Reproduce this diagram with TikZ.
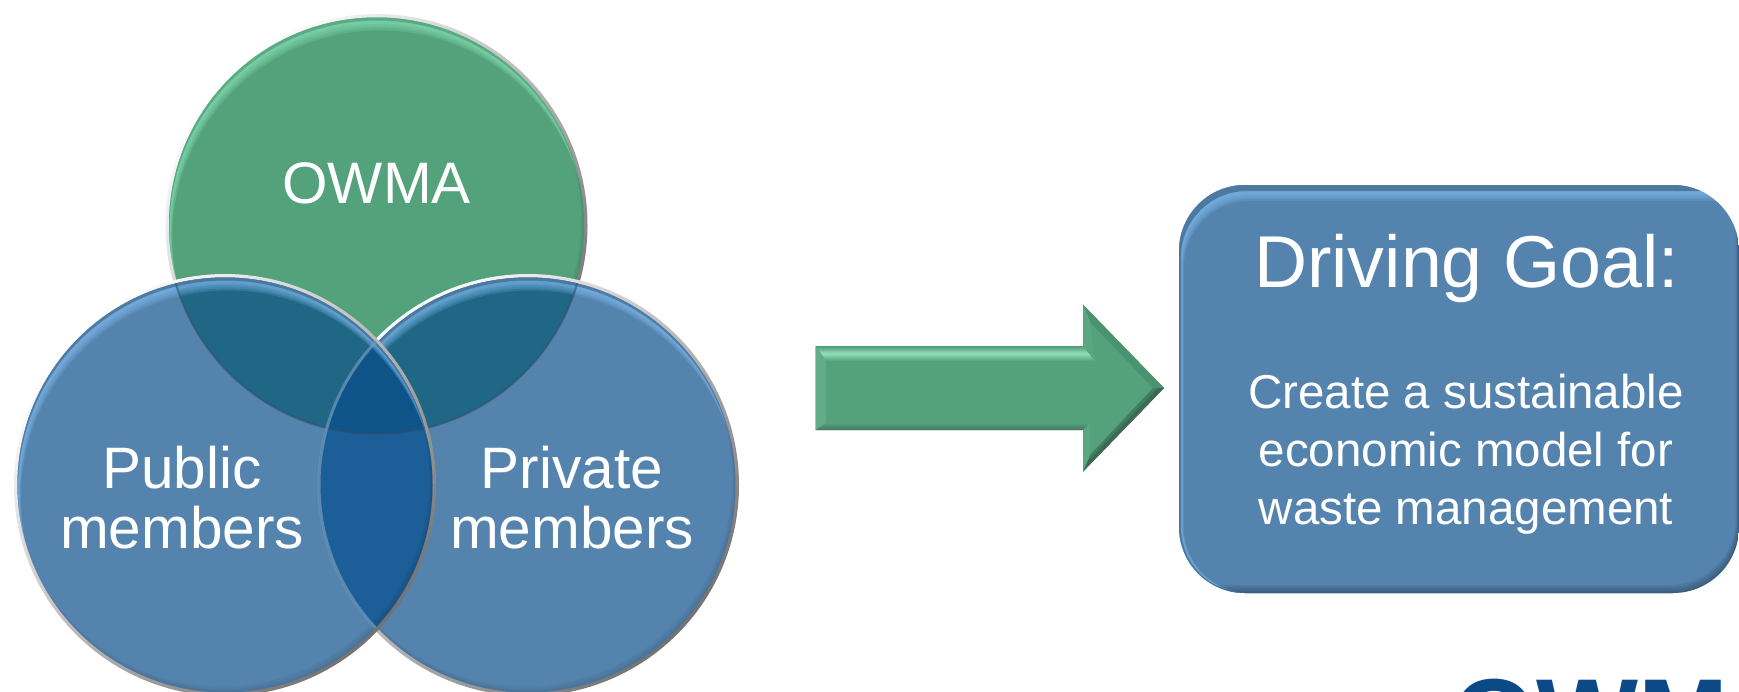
\documentclass[tikz,border=0pt]{standalone}
\usepackage{fontspec}
\setmainfont{Liberation Sans}
\definecolor{gbase}{HTML}{53A27C}
\definecolor{ghi}{HTML}{86DDB2}
\definecolor{bbase}{HTML}{5483AE}
\definecolor{bhi}{HTML}{7DB8EC}
\definecolor{tealov}{HTML}{1F6784}
\definecolor{blueov}{HTML}{1C5E97}
\definecolor{triov}{HTML}{0E5489}
\definecolor{logoblue}{HTML}{0B4A86}
\tikzset{
  x=1pt,y=-1pt,
  label/.style={text=white,inner sep=0pt,align=center,anchor=base},
  big/.style={font=\fontsize{58.5}{60}\selectfont},
  small/.style={font=\fontsize{47.5}{58}\selectfont},
}
% rim and base disc
\newcommand{\discbase}[3]{%
  \shade[top color=white,bottom color=black!55,shading angle=45] (#1,#2) circle[radius=211];
  \fill[#3] (#1,#2) circle[radius=207.5];
}
% bevel inside a disc: highlight at the upper left, soft dark at the lower right
\newcommand{\discbevel}[4]{%
  \begin{scope}
    \clip (#1,#2) circle[radius=207.5];
    \foreach \d in {13,11,9,7,6}{
      \fill[#3,opacity=.22,even odd rule] (-300,-300) rectangle (2100,1000) (#1+\d*.25,#2+\d) circle[radius=207.5];
    }
    \fill[#4,opacity=.8,even odd rule] (-300,-300) rectangle (2100,1000) (#1+.5,#2+3) circle[radius=207.5];
    \foreach \d in {6,4,2}{
      \fill[black,opacity=.035,even odd rule] (-300,-300) rectangle (2100,1000) (#1-\d*.5,#2-\d) circle[radius=207.5];
    }
  \end{scope}
}
\begin{document}
\begin{tikzpicture}
\useasboundingbox (0,0) rectangle (1739,691);
\clip (0,0) rectangle (1739,691);
\fill[white] (0,0) rectangle (1739,691);

% OWMA disc
\discbase{376.5}{225}{gbase}
\discbevel{376.5}{225}{ghi}{gbase}

% Private disc
\discbase{528}{485}{bbase}
\begin{scope}
  \clip (528,485) circle[radius=207.5];
  \fill[tealov] (376.5,225) circle[radius=209];
\end{scope}
\discbevel{528}{485}{bhi}{bbase!85!black}
\begin{scope}
  \clip (528,485) circle[radius=207.5];
  \draw[black!40!bbase,opacity=.55,line width=2pt] (376.5,225) circle[radius=209];
\end{scope}

% Public disc
\discbase{225}{485}{bbase}
\begin{scope}
  \clip (225,485) circle[radius=207.5];
  \fill[tealov] (376.5,225) circle[radius=209];
  \fill[blueov] (528,485) circle[radius=210];
  \begin{scope}
    \clip (528,485) circle[radius=210];
    \fill[triov] (376.5,225) circle[radius=209];
  \end{scope}
\end{scope}
\discbevel{225}{485}{bhi}{bbase!85!black}
\begin{scope}
  \clip (225,485) circle[radius=207.5];
  \draw[black!40!bbase,opacity=.55,line width=2pt] (376.5,225) circle[radius=209];
  \draw[bbase!80!white,opacity=.7,line width=3pt] (528,485) circle[radius=209];
\end{scope}

% Arrow
\fill[gbase] (815.5,346) -- (1083,346) -- (1083,304.6) -- (1164,388) -- (1083,471.6) -- (1083,430) -- (815.5,430) -- cycle;
\shade[top color=gbase!95!black,bottom color=gbase,middle color=ghi!90!white] (815.5,346) -- (1083,346) -- (1095,361) -- (826,361) -- cycle;
\fill[gbase!90!white] (815.5,346) -- (826,361) -- (826,423) -- (815.5,430) -- cycle;
\shade[top color=gbase,bottom color=gbase!70!black!85!gray] (815.5,430) -- (826,423) -- (1090,423) -- (1083,430) -- cycle;
\fill[gbase!90!black] (1083,304.6) -- (1164,388) -- (1153,388) -- (1090,322) -- cycle;
\fill[gbase!78!black] (1164,388) -- (1083,471.6) -- (1090,455) -- (1153,388) -- cycle;
\fill[gbase!62!black!85!gray] (1164,388) -- (1083,471.6) -- (1086,463) -- (1158,388) -- cycle;
\fill[gbase!95!white] (1083,346) -- (1083,304.6) -- (1090,322) -- (1095,361) -- cycle;
\fill[gbase!95!white] (1083,471.6) -- (1083,430) -- (1090,423) -- (1090,455) -- cycle;

% Goal box
\begin{scope}
  \clip[rounded corners=66pt] (1179,185) rectangle (1739,593);
  \fill[bbase] (1170,170) rectangle (1745,600);
  \foreach \d in {16,14,12,10,9}{
    \fill[bhi,opacity=.24,even odd rule] (1000,100) rectangle (1900,700)
      [rounded corners=66pt] (1179+\d*.3,185+\d) rectangle (1800,593);
  }
  \fill[bbase!92!black,even odd rule] (1000,100) rectangle (1900,700)
      [rounded corners=66pt] (1179+2,185+6) rectangle (1800,593);
  \foreach \d in {8,6,4,2}{
    \fill[black,opacity=.07,even odd rule] (1000,100) rectangle (1900,700)
      [rounded corners=66pt] (1100,100) rectangle (1739-\d*.4,593-\d);
  }
\end{scope}

% Texts
\node[label,big] (owma) at (376.5,203) {OWMA};
\node[label,big] (public) at (182,548) {Public\\members};
\node[label,big] (private) at (572,548) {Private\\members};
\node[label,font=\fontsize{73.5}{80}\selectfont] (goal) at (1466.5,287) {Driving Goal:};
\node[label,small] (desc) at (1466,524) {Create a sustainable\\economic model for\\waste management};
\node[anchor=base west,inner sep=0pt,text=logoblue,font=\fontsize{108}{108}\selectfont\bfseries] (logo) at (1452,754) {OWM};
\end{tikzpicture}
\end{document}
